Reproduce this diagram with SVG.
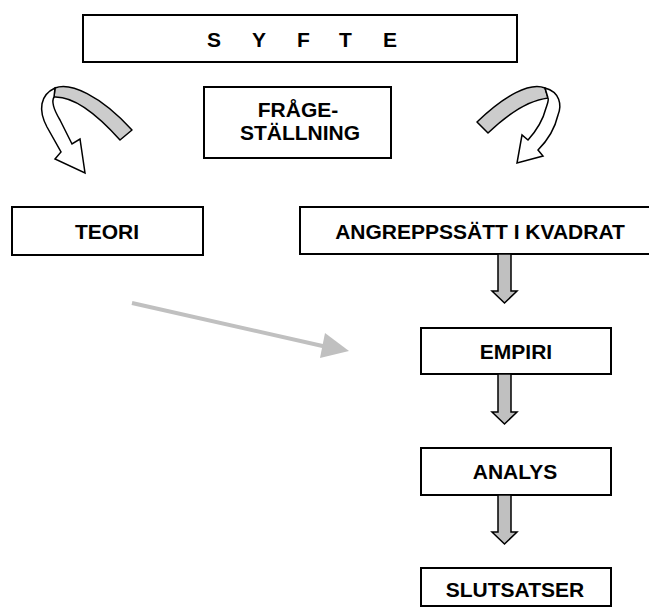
<svg xmlns="http://www.w3.org/2000/svg" width="649" height="608" viewBox="0 0 649 608">
<style>
.box{fill:#fff;stroke:#000;stroke-width:2}
.t{font-family:"Liberation Sans",Arial,sans-serif;font-weight:bold;font-size:21px;fill:#000;text-anchor:middle}
.blk{fill:#c0c0c0;stroke:#000;stroke-width:1.5;stroke-linejoin:miter}
.band{fill:#cccccc;stroke:#000;stroke-width:1.5;stroke-linejoin:round}
.wh{fill:#fff;stroke:#000;stroke-width:1.5;stroke-linejoin:miter}
</style>
<g id="syfte"><rect class="box" x="83" y="15" width="434" height="47"/>
<text class="t" style="text-anchor:start" x="207 252 297 339 383" y="47">SYFTE</text></g>
<g id="fragestallning"><rect class="box" x="204" y="87" width="187" height="71"/>
<text class="t" x="298" y="117">FRÅGE-</text><text class="t" x="300" y="140">STÄLLNING</text></g>
<g id="teori"><rect class="box" x="12" y="207" width="191" height="48"/>
<text class="t" x="107" y="239">TEORI</text></g>
<g id="angrepp"><rect class="box" x="300" y="207" width="370" height="47"/>
<text class="t" x="480" y="239">ANGREPPSSÄTT I KVADRAT</text></g>
<g id="empiri"><rect class="box" x="421" y="328" width="190" height="46"/>
<text class="t" x="516" y="359">EMPIRI</text></g>
<g id="analys"><rect class="box" x="421" y="448" width="190" height="47"/>
<text class="t" x="515" y="479">ANALYS</text></g>
<g id="slutsatser"><rect class="box" x="421" y="568" width="190" height="38"/>
<text class="t" x="515" y="597">SLUTSATSER</text></g>
<g id="connectors">
<path class="band" d="M55,88 C70,82 100,95 132,130 L120,140 C95,112 72,96 54,97 Z"/>
<path class="wh" d="M55,88 C40,95 38,110 47,127 L61,152 L55,159 L85,173 L80,139 L72,144 L60,120 C54,110 51,102 54,97 Z"/>
<path class="band" d="M545,88 C530,82 505,95 477,122 L488,133 C510,112 530,100 548,98 Z"/>
<path class="wh" d="M545,88 C560,92 562,105 558,115 C555,128 548,140 538,150 L543,156 L517,163 L522,135 L528,140 C537,130 543,120 546,108 C548,102 549,100 548,98 Z"/>
<path class="blk" d="M498,254 L511,254 L511,291 L517,291 L504.5,303 L492,291 L498,291 Z"/>
<path class="blk" d="M498,374 L511,374 L511,412 L517,412 L504.5,424 L492,412 L498,412 Z"/>
<path class="blk" d="M498,495 L511,495 L511,532 L517,532 L504.5,544 L492,532 L498,532 Z"/>
<line x1="132" y1="303" x2="327" y2="347" stroke="#c0c0c0" stroke-width="4"/>
<path d="M325,333 L349,351 L320,358 Z" fill="#c0c0c0"/>
</g>
</svg>
